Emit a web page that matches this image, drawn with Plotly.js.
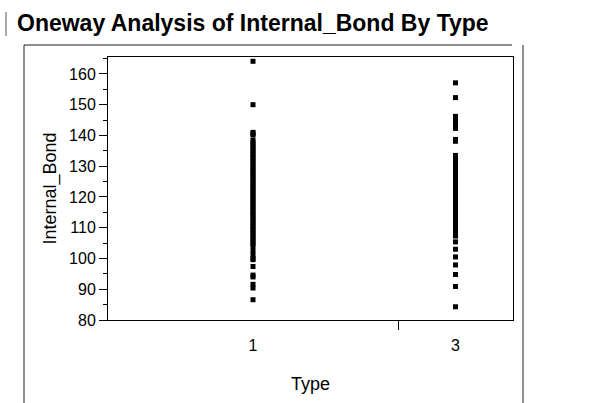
<!DOCTYPE html>
<html>
<head>
<meta charset="utf-8">
<script src="https://cdn.plot.ly/plotly-3.0.1.min.js"></script>
<style>html,body{margin:0;padding:0;background:#fff;}#chart{width:598px;height:403px;}</style>
</head>
<body>
<div id="chart"></div>
<script>
// ---- data ----
const groups = ['1', '3'];
// group sizes (JMP proportional x axis)
const groupCounts = [58, 23];
const type1Values = [164.1, 150.0, 141.0, 140.6, 140.1,
  138.4, 137.6, 136.9, 136.1, 135.3, 134.6, 133.8, 133.0, 132.3, 131.5, 130.8, 130.0,
  129.2, 128.5, 127.7, 126.9, 126.2, 125.4, 124.6, 123.9, 123.1, 122.4, 121.6, 120.8,
  120.1, 119.3, 118.5, 117.8, 117.0, 116.3, 115.5, 114.7, 114.0, 113.2, 112.4, 111.7,
  110.9, 110.2, 109.4, 108.6, 107.9, 107.1, 106.3, 105.6, 104.8, 104.1,
  102.6, 101.2, 100.0, 99.6, 97.4, 94.6, 94.0, 91.6, 90.4, 86.6];
const type3Values = [157.1, 152.3,
  146.2, 145.5, 144.8, 144.0, 143.3, 142.6, 142.3,
  138.7, 138.1,
  133.5, 132.8, 132.0, 131.2, 130.5, 129.7, 128.9, 128.2, 127.4, 126.6, 125.9, 125.1,
  124.3, 123.6, 122.8, 122.0, 121.3, 120.5, 119.7, 119.0, 118.2, 117.4, 116.7, 115.9,
  115.1, 114.4, 113.6, 112.8, 112.1, 111.3, 110.5, 109.8, 109.0, 108.2, 107.3,
  105.4, 103.0, 100.5, 97.9, 94.8, 90.9, 84.3];
const seriesValues = [type1Values, type3Values];

// ---- layout geometry ----
const W = 598, H = 403;
const M = {l: 108, r: 85, t: 57, b: 83};
const pw = W - M.l - M.r, ph = H - M.t - M.b;
const px = x => (x - M.l) / pw;          // pixel -> paper x
const py = y => (H - M.b - y) / ph;      // pixel -> paper y

const total = groupCounts.reduce((a, b) => a + b, 0);
const centers = [], bounds = [];
let cum = 0;
groupCounts.forEach((n, i) => {
  centers.push((cum + n / 2) / total);
  cum += n;
  if (i < groupCounts.length - 1) bounds.push(cum / total);
});

const traces = groups.map((g, i) => ({
  type: 'scatter', mode: 'markers',
  x: seriesValues[i].map(() => centers[i]),
  y: seriesValues[i],
  marker: {symbol: 'square', size: 5, color: '#000'},
  hoverinfo: 'y', showlegend: false, cliponaxis: false
}));

const line = {color: '#222', width: 1};
const layout = {
  width: W, height: H,
  margin: M,
  paper_bgcolor: '#fff', plot_bgcolor: '#fff',
  font: {family: 'Liberation Sans, Arial, sans-serif', color: '#000'},
  title: {
    text: '<b>Oneway Analysis of Internal_Bond By Type</b>',
    font: {size: 23, family: 'Liberation Sans, Arial, sans-serif', color: '#000'},
    xref: 'container', yref: 'container', x: 17 / W, xanchor: 'left',
    y: 1 - 23 / H, yanchor: 'middle'
  },
  xaxis: {
    range: [0, 1], showgrid: false, zeroline: false,
    showline: true, linecolor: '#000', linewidth: 1, mirror: true,
    tickmode: 'array', tickvals: centers, ticktext: groups,
    ticks: '', ticklabelstandoff: 11,
    tickfont: {size: 16},
    minor: {tickmode: 'array', tickvals: bounds, ticks: 'outside', ticklen: 9, tickcolor: '#000', tickwidth: 1, showgrid: false},
    title: {text: 'Type', font: {size: 18}, standoff: 24}
  },
  yaxis: {
    range: [80, 165.5], showgrid: false, zeroline: false,
    showline: true, linecolor: '#000', linewidth: 1, mirror: true,
    tickmode: 'linear', tick0: 80, dtick: 10,
    ticks: 'outside', ticklen: 8, tickcolor: '#000', tickwidth: 1,
    tickfont: {size: 16},
    minor: {dtick: 5, ticks: 'outside', ticklen: 4, tickcolor: '#000', tickwidth: 1, showgrid: false},
    title: {text: 'Internal_Bond', font: {size: 18}, standoff: 7}
  },
  shapes: [
    {type: 'line', xref: 'paper', yref: 'paper', x0: px(24), x1: px(24), y0: py(45), y1: py(403), line},
    {type: 'line', xref: 'paper', yref: 'paper', x0: px(24), x1: px(512), y0: py(45), y1: py(45), line},
    {type: 'line', xref: 'paper', yref: 'paper', x0: px(523), x1: px(523), y0: py(45), y1: py(403), line},
    {type: 'line', xref: 'paper', yref: 'paper', x0: px(6), x1: px(6), y0: py(12), y1: py(36), line: {color: '#555', width: 1}}
  ]
};

Plotly.newPlot('chart', traces, layout, {staticPlot: true, displayModeBar: false});
</script>
</body>
</html>
